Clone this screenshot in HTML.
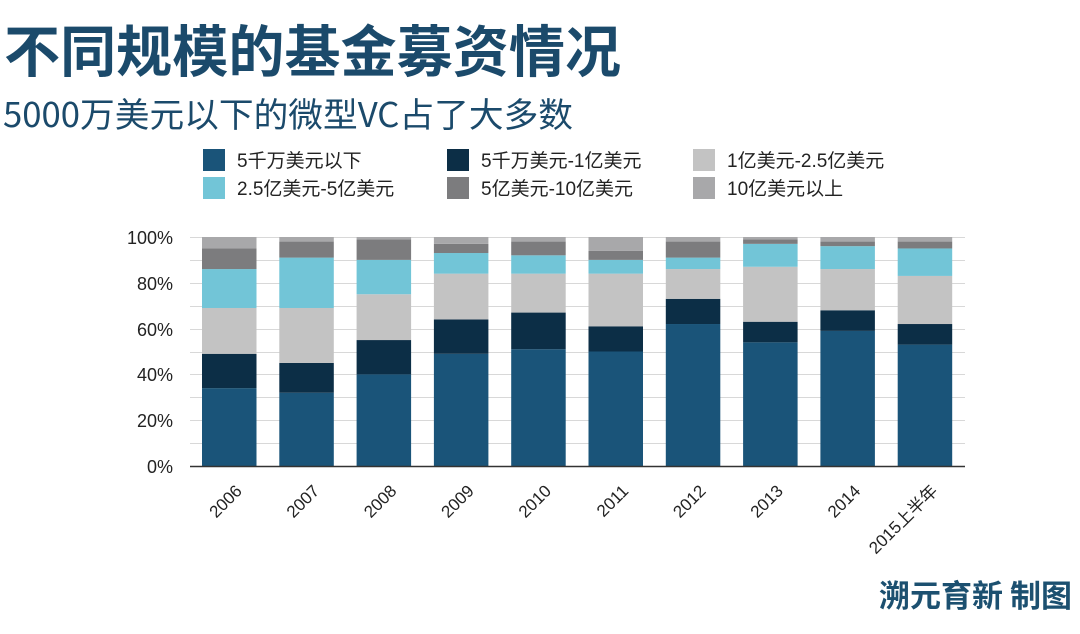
<!DOCTYPE html>
<html><head><meta charset="utf-8"><style>
body{margin:0;background:#fff;width:1080px;height:629px;overflow:hidden}
svg text{font-family:"Liberation Sans","Noto Sans CJK SC",sans-serif}
</style></head><body>
<svg width="1080" height="629" viewBox="0 0 1080 629" xmlns="http://www.w3.org/2000/svg">
<text x="4" y="72" font-size="56" font-weight="bold" fill="#1b4a6b" style="font-family:'Noto Sans CJK SC',sans-serif" textLength="617" lengthAdjust="spacingAndGlyphs">不同规模的基金募资情况</text>
<text x="3" y="127" font-size="34" fill="#1b4a6b" style="font-family:'Noto Sans CJK SC',sans-serif" textLength="570" lengthAdjust="spacingAndGlyphs">5000万美元以下的微型VC占了大多数</text>
<g font-size="19" fill="#222">
<rect x="203" y="149" width="22" height="22" fill="#1a5479"/><text x="237" y="167">5千万美元以下</text>
<rect x="203" y="177" width="22" height="22" fill="#72c5d7"/><text x="237" y="195">2.5亿美元-5亿美元</text>
<rect x="447" y="149" width="22" height="22" fill="#0c2e46"/><text x="481" y="167">5千万美元-1亿美元</text>
<rect x="447" y="177" width="22" height="22" fill="#7c7c7e"/><text x="481" y="195">5亿美元-10亿美元</text>
<rect x="693" y="149" width="22" height="22" fill="#c3c3c3"/><text x="727" y="167">1亿美元-2.5亿美元</text>
<rect x="693" y="177" width="22" height="22" fill="#a8a8aa"/><text x="727" y="195">10亿美元以上</text>
</g>
<g id="grid" stroke="#d8d8d8" stroke-width="1"></g>
<g id="bars"></g>
<line x1="190" y1="466.5" x2="965" y2="466.5" stroke="#333" stroke-width="1.5"/>
<g font-size="18" fill="#222" text-anchor="end">
<text x="173" y="244">100%</text><text x="173" y="290">80%</text><text x="173" y="336">60%</text><text x="173" y="381">40%</text><text x="173" y="427">20%</text><text x="173" y="473">0%</text>
</g>
<g id="xl" font-size="17" fill="#222" text-anchor="end"></g>
<text x="1072" y="607" font-size="31" font-weight="bold" fill="#1c5070" text-anchor="end" style="font-family:'Noto Sans CJK SC',sans-serif">溯元育新 制图</text>
</svg>
<script>
var ns="http://www.w3.org/2000/svg";
function Y(p){return 466-p*2.29;}
var g=document.getElementById('grid');
for(var i=1;i<=10;i++){var l=document.createElementNS(ns,'line');var y=Math.round(Y(i*10))+0.5;l.setAttribute('x1',190);l.setAttribute('x2',965);l.setAttribute('y1',y);l.setAttribute('y2',y);g.appendChild(l);}
var d=[[34,49,69,86,95,100],[32,45,69,91,98,100],[40,55,75,90,99,100],[49,64,84,93,97,100],[51,67,84,92,98,100],[50,61,84,90,94,100],[62,73,86,91,98,100],[54,63,87,97,99,100],[59,68,86,96,98,100],[53,62,83,95,98,100]];
var c=["#1a5479","#0c2e46","#c3c3c3","#72c5d7","#7c7c7e","#a8a8aa"];
var labs=["2006","2007","2008","2009","2010","2011","2012","2013","2014","2015上半年"];
var b=document.getElementById('bars'),xl=document.getElementById('xl');
for(var k=0;k<10;k++){var x=202+k*77.3,prev=0;
for(var j=0;j<6;j++){var r=document.createElementNS(ns,'rect');r.setAttribute('x',x);r.setAttribute('width',54.5);r.setAttribute('y',Y(d[k][j]));r.setAttribute('height',Y(prev)-Y(d[k][j]));r.setAttribute('fill',c[j]);b.appendChild(r);prev=d[k][j];}
var t=document.createElementNS(ns,'text');var cx=x+27+14,cy=492;t.setAttribute('x',cx);t.setAttribute('y',cy);t.setAttribute('transform','rotate(-45 '+cx+' '+cy+')');t.textContent=labs[k];xl.appendChild(t);}
</script>
</body></html>
